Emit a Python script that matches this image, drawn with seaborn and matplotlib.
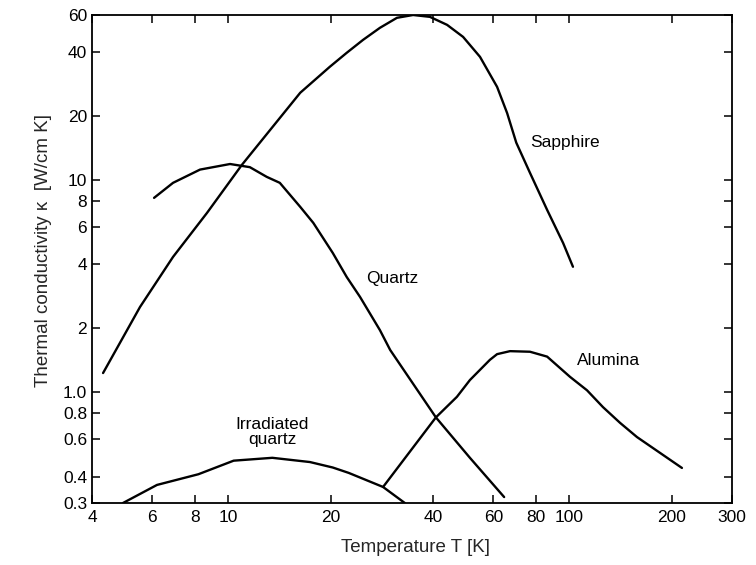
import matplotlib
matplotlib.use("Agg")
import matplotlib.pyplot as plt
import matplotlib.ticker as mticker
import seaborn as sns
import pandas as pd

# Thermal conductivity curves (temperature in K, kappa in W/cm K)
sapphire_T = [4.31, 5.53, 6.91, 8.69, 11.0, 16.3, 19.9, 22.3, 24.9, 27.9,
              31.3, 34.9, 39.1, 43.9, 48.9, 54.8, 61.5, 65.8, 70.0, 76.8,
              86.2, 96.0, 102.6]
sapphire_k = [1.23, 2.52, 4.34, 7.0, 11.8, 25.8, 34.2, 39.8, 45.8, 52.2,
              58.2, 60.0, 58.8, 53.9, 47.3, 38.1, 27.5, 20.7, 15.0, 10.8,
              7.23, 5.05, 3.9]

quartz_T = [6.08, 6.91, 8.29, 10.15, 11.6, 13.0, 14.2, 16.3, 17.8, 20.3,
            22.3, 24.4, 27.9, 29.9, 40.7, 51.2, 64.5]
quartz_k = [8.24, 9.7, 11.2, 11.9, 11.5, 10.35, 9.7, 7.47, 6.28, 4.53,
            3.49, 2.81, 1.96, 1.58, 0.76, 0.49, 0.32]

irradiated_T = [4.93, 6.2, 8.2, 10.4, 13.5, 17.4, 20.3, 22.6, 28.5, 33.0]
irradiated_k = [0.30, 0.365, 0.41, 0.475, 0.49, 0.468, 0.441, 0.416, 0.357, 0.30]

alumina_T = [28.5, 40.7, 46.9, 51.2, 58.6, 61.5, 67.1, 76.8, 86.2, 100.6,
             112.8, 125.6, 141, 158, 214]
alumina_k = [0.357, 0.76, 0.95, 1.14, 1.42, 1.51, 1.56, 1.55, 1.47, 1.18,
             1.02, 0.85, 0.716, 0.614, 0.439]

x_ticks = [4, 6, 8, 10, 20, 40, 60, 80, 100, 200, 300]
x_tick_labels = ["4", "6", "8", "10", "20", "40", "60", "80", "100", "200", "300"]
y_ticks = [0.3, 0.4, 0.6, 0.8, 1.0, 2, 4, 6, 8, 10, 20, 40, 60]
y_tick_labels = ["0.3", "0.4", "0.6", "0.8", "1.0", "2", "4", "6", "8",
                 "10", "20", "40", "60"]

curves = {
    "Sapphire": (sapphire_T, sapphire_k),
    "Quartz": (quartz_T, quartz_k),
    "Irradiated quartz": (irradiated_T, irradiated_k),
    "Alumina": (alumina_T, alumina_k),
}

sns.set_style("ticks")
plt.rcParams["font.family"] = ["Liberation Sans", "DejaVu Sans"]

fig = plt.figure(figsize=(7.56, 5.65), dpi=100)
ax = fig.add_axes([92 / 756, 1 - 503 / 565, 640 / 756, 488 / 565])

for name, (T, k) in curves.items():
    df = pd.DataFrame({"T": T, "kappa": k})
    sns.lineplot(data=df, x="T", y="kappa", ax=ax, color="black",
                 linewidth=1.7, sort=False, estimator=None,
                 solid_joinstyle="round", solid_capstyle="round")

ax.set_xscale("log")
ax.set_yscale("log")
ax.set_xlim(4, 300)
ax.set_ylim(0.3, 60)

ax.xaxis.set_major_locator(mticker.FixedLocator(x_ticks))
ax.xaxis.set_major_formatter(mticker.FixedFormatter(x_tick_labels))
ax.yaxis.set_major_locator(mticker.FixedLocator(y_ticks))
ax.yaxis.set_major_formatter(mticker.FixedFormatter(y_tick_labels))
ax.xaxis.set_minor_locator(mticker.NullLocator())
ax.yaxis.set_minor_locator(mticker.NullLocator())

ax.tick_params(which="major", direction="in", top=True, right=True,
               length=6, width=1.1, labelsize=12.5, colors="black")
ax.tick_params(axis="x", pad=5)
ax.tick_params(axis="y", pad=3.5)

for sp in ax.spines.values():
    sp.set_linewidth(1.3)
    sp.set_color("black")

ax.set_xlabel("Temperature T [K]", fontsize=13.5)
ax.set_ylabel("Thermal conductivity \u03ba  [W/cm K]", fontsize=13.5)
ax.xaxis.set_label_coords(0.506, -0.074)
ax.yaxis.set_label_coords(-0.062, 0.518)

label_kw = dict(ha="center", va="center", fontsize=12.5, color="black")
ax.text(97, 15, "Sapphire", **label_kw)
ax.text(30.3, 3.45, "Quartz", **label_kw)
ax.text(130, 1.41, "Alumina", **label_kw)
ax.text(13.5, 0.645, "Irradiated\nquartz", linespacing=1.0, **label_kw)

fig.savefig("out.png", dpi=100)
